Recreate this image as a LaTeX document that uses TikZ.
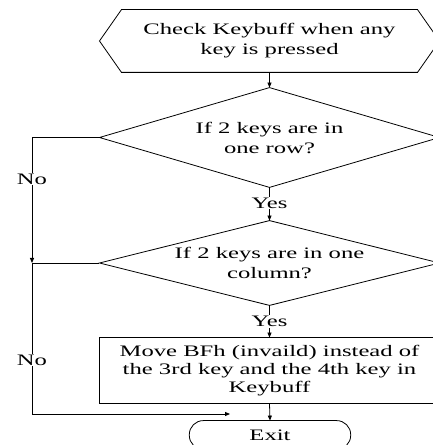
\documentclass[tikz,border=0pt]{standalone}
\usepackage{fontspec}
\setmainfont{Liberation Serif}
\usetikzlibrary{arrows.meta}
\begin{document}
\begin{tikzpicture}[x=1pt,y=1pt,
  line width=0.8pt,
  >={Triangle[length=5pt,width=4pt]},
  every node/.style={font=\fontsize{16}{20}\selectfont},
  wide/.style={xscale=1.54, transform shape},
  frame/.style={wide, minimum width=220pt, inner sep=0pt, align=center},
  lbl/.style={wide, fill=white, inner sep=1pt}]
\useasboundingbox (0,0) rectangle (432,445);

% start block (hexagon drawn round a plain node)
\node[frame, minimum height=62pt] (chk) at (269.5,404)
  {Check Keybuff when any\\key is pressed};
\draw (chk.west) -- ([xshift=22pt]chk.north west) -- ([xshift=-22pt]chk.north east)
  -- (chk.east) -- ([xshift=-22pt]chk.south east) -- ([xshift=22pt]chk.south west) -- cycle;

% first decision
\node[frame, minimum height=99pt] (row) at (269.5,307.5)
  {If 2 keys are in\\one row?};
\draw (row.west) -- (row.north) -- (row.east) -- (row.south) -- cycle;

% second decision
\node[frame, minimum height=84pt] (col) at (269.5,182)
  {If 2 keys are in one\\column?};
\draw (col.west) -- (col.north) -- (col.east) -- (col.south) -- cycle;

% action
\node[frame, minimum height=65pt, font=\fontsize{16}{18}\selectfont] (mv) at (269.5,74.5)
  {Move BFh (invaild) instead of\\the 3rd key and the 4th key in\\Keybuff};
\draw (mv.north west) rectangle (mv.south east);

% terminal
\node[wide, minimum width=104pt, minimum height=28pt, inner sep=0pt] (exit) at (270,10) {Exit};
\draw[rounded corners=14pt] (exit.north west) rectangle (exit.south east);

% joints of the "No" path
\coordinate (nj) at (32,182);
\coordinate (nc) at (32,31);
\coordinate (ne) at (230,31);

% main flow
\draw[->] (chk.south) -- (row.north);
\draw[->] (row.south) -- (col.north) node[lbl, pos=0.47] {Yes};
\draw[->] (col.south) -- (mv.north) node[lbl, pos=0.5] {Yes};
\draw[->] (mv.south) -- (exit.north);

% "No" branches
\draw[->] (row.west) -| (nj);
\draw (col.west) -- (nj);
\draw[->] (nj) -- (nc) -- (ne);
\node[lbl] (no1) at (32,266) {No};
\node[lbl] (no2) at (32,85) {No};
\end{tikzpicture}
\end{document}
